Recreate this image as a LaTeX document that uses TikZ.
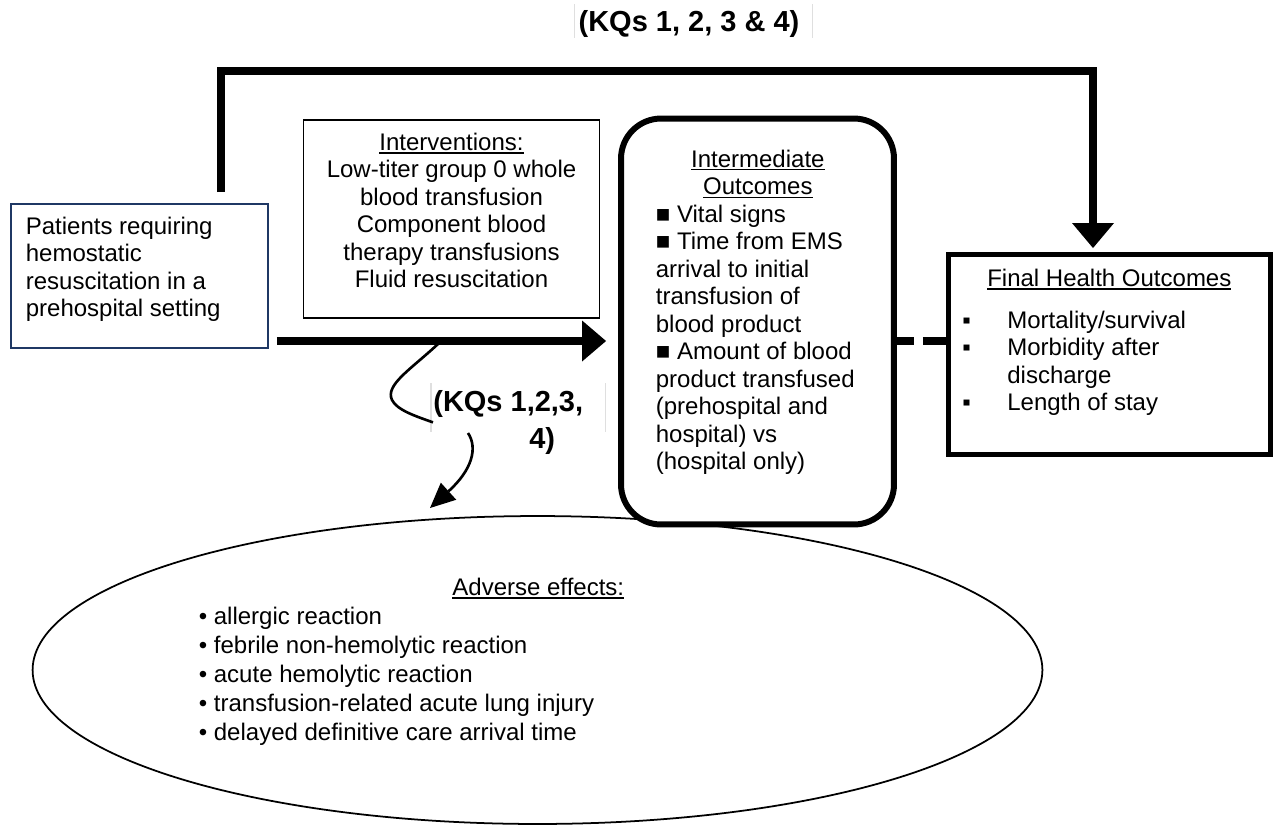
\documentclass[tikz,border=0pt]{standalone}
\usepackage{fontspec}
\setmainfont{Liberation Sans}
\usetikzlibrary{arrows.meta,shapes.geometric}
\definecolor{boxnavy}{RGB}{31,56,100}
\newcommand{\bodyfont}{\fontsize{13.66}{15.65}\selectfont}
\newcommand{\listfont}{\fontsize{13.66}{16.56}\selectfont}
\newcommand{\kqfont}{\fontsize{16.5}{21.05}\selectfont\bfseries}
\newcommand{\undl}[1]{\leavevmode\vtop{\hbox{#1}\kern1pt\hrule height0.8pt}}

\begin{document}
\begin{tikzpicture}[x=0.02cm, y=-0.02cm,
  box/.style={draw, inner sep=0pt},
  txt/.style={font=\bodyfont, inner sep=0pt},
  kqtext/.style={font=\kqfont, inner sep=0pt},
  bigline/.style={line width=4.55pt},
  thinline/.style={line width=1.5pt},
  faint/.style={draw=gray!25, line width=0.6pt}]

\useasboundingbox (0,0) rectangle (1274,825);

\coordinate (lvl) at (0,341);
\coordinate (topfoot) at (221,192);
\coordinate (kqturn) at (1093,71);
\coordinate (branch) at (438,344);
\coordinate (sidefoot) at (468,433);
\coordinate (adtip) at (430,508);

\node [draw, ellipse, line width=1pt, minimum width=20.2cm, minimum height=6.16cm] (adverse) at (537.5,670) {};
\node [txt, font=\listfont, align=left, anchor=north west] (adversetxt) at (198.5,577.6)
  {\makebox[13.58cm]{\undl{Adverse effects:}}\\
   • allergic reaction\\
   • febrile non-hemolytic reaction\\
   • acute hemolytic reaction\\
   • transfusion-related acute lung injury\\
   • delayed definitive care arrival time};

\node [box, draw=boxnavy, line width=1.1pt, minimum width=5.15cm, minimum height=2.89cm] (patients) at (139.6,276) {};
\node [txt, align=left, anchor=north west] (patientstxt) at (25.5,216.6)
  {Patients requiring\\hemostatic\\resuscitation in a\\prehospital setting};

\node [box, line width=1pt, minimum width=5.92cm, minimum height=3.96cm] (interv) at (451.5,219) {};
\node [txt, align=center, anchor=north] (intervtxt) at (451.5,132.6)
  {\undl{Interventions:}\\Low-titer group 0 whole\\blood transfusion\\Component blood\\therapy transfusions\\Fluid resuscitation};

\node [box, line width=3.4pt, rounded corners=0.8cm, fill=white, minimum width=5.46cm, minimum height=8.12cm] (interm) at (757.5,321.5) {};
\node [txt, align=left, anchor=north west] (intermtxt) at (655.5,149.3)
  {\makebox[4.08cm]{\undl{Intermediate}}\\
   \makebox[4.08cm]{\undl{Outcomes}}\\
   ■ Vital signs\\
   ■ Time from EMS\\
   arrival to initial\\
   transfusion of\\
   blood product\\
   ■ Amount of blood\\
   product transfused\\
   (prehospital and\\
   hospital) vs\\
   (hospital only)};

\node [box, line width=2.85pt, minimum width=6.46cm, minimum height=4.02cm] (final) at (1109.5,354.5) {};
\node [txt, align=left, anchor=north west] (finaltxt) at (962,268.6)
  {\makebox[5.88cm]{\undl{Final Health Outcomes}}\\[0.29cm]
   \makebox[0.9cm][l]{▪}Mortality/survival\\
   \makebox[0.9cm][l]{▪}Morbidity after\\
   \hspace*{0.9cm}discharge\\
   \makebox[0.9cm][l]{▪}Length of stay};

\node [kqtext, anchor=north] (kqtop) at (689,10.5) {(KQs 1, 2, 3 \& 4)};
\draw [faint] (kqtop.north west) ++(-3.5,-6.5) -- ++(0,34);
\draw [faint] (kqtop.north east) ++(13,-6.5) -- ++(0,34);

\node [kqtext, align=left, anchor=north west] (kqside) at (433,390) {(KQs 1,2,3,\\\hspace*{1.92cm}4)};
\draw [faint] (kqside.north west) ++(-2,-7) -- ++(0,49);
\draw [faint] (kqside.north east) ++(22,-7) -- ++(0,49);

\draw [bigline, -{Triangle[length=0.5cm, width=0.84cm, line width=0pt]}, shorten >=0.07cm]
  (topfoot) |- (kqturn) -- (kqturn |- final.north);
\draw [line width=5.1pt, -{Triangle[length=0.48cm, width=0.82cm, line width=0pt]}, shorten <=0.154cm, shorten >=0.24cm]
  (patients.east |- lvl) -- (interm.west |- lvl);
\draw [bigline, dash pattern=on 0.34cm off 0.18cm on 2cm] (interm.east |- lvl) -- (final.west |- lvl);

\draw [thinline] (branch) .. controls (410,370) and (385,385) .. (392,400) .. controls (397,410) and (415,416) .. (kqside.west);
\draw [thinline, -{Triangle[length=0.5cm, width=0.46cm, line width=0pt]}] (sidefoot) .. controls (478,448) and (472,470) .. (adtip);
\end{tikzpicture}
\end{document}
